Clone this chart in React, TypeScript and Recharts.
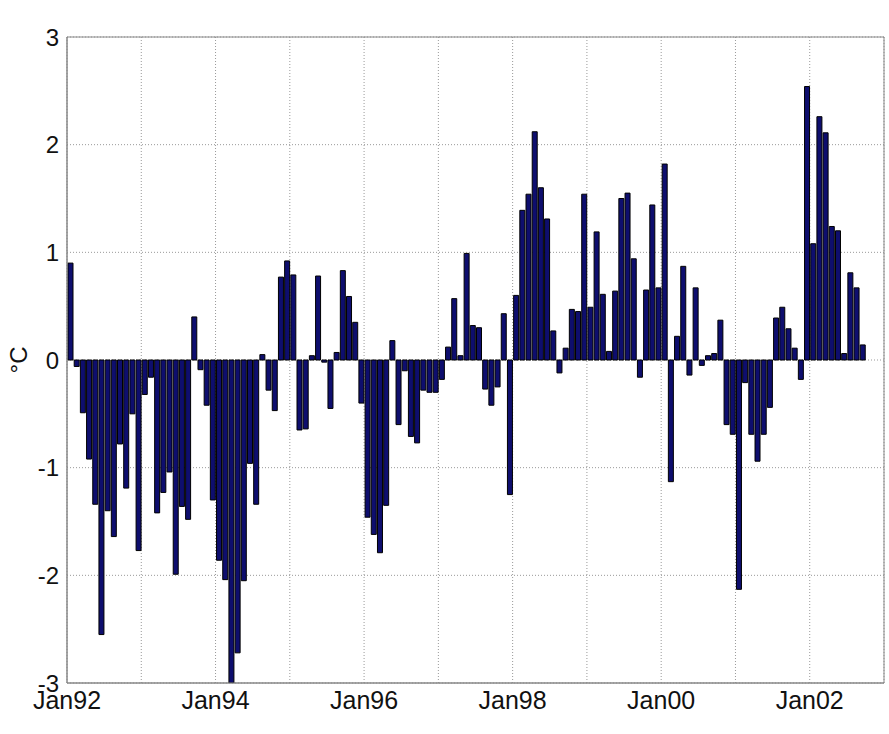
import { BarChart, Bar, XAxis, YAxis, CartesianGrid, ReferenceArea } from "recharts";

// monthly temperature anomaly (°C), Jan 1992 .. Sep 2002
const anom1992 = [0.9, -0.06, -0.49, -0.92, -1.34, -2.55, -1.4, -1.64, -0.78, -1.19, -0.5, -1.77];
const anom1993 = [-0.32, -0.16, -1.42, -1.23, -1.04, -1.99, -1.36, -1.48, 0.4, -0.09, -0.42, -1.3];
const anom1994 = [-1.86, -2.04, -3.0, -2.72, -2.05, -0.96, -1.34, 0.05, -0.28, -0.47, 0.77, 0.92];
const anom1995 = [0.79, -0.65, -0.64, 0.04, 0.78, -0.02, -0.45, 0.07, 0.83, 0.59, 0.35, -0.4];
const anom1996 = [-1.46, -1.62, -1.79, -1.35, 0.18, -0.6, -0.1, -0.71, -0.77, -0.28, -0.3, -0.3];
const anom1997 = [-0.18, 0.12, 0.57, 0.04, 0.99, 0.32, 0.3, -0.27, -0.42, -0.25, 0.43, -1.25];
const anom1998 = [0.6, 1.39, 1.54, 2.12, 1.6, 1.31, 0.27, -0.12, 0.11, 0.47, 0.45, 1.54];
const anom1999 = [0.49, 1.19, 0.61, 0.08, 0.64, 1.5, 1.55, 0.94, -0.16, 0.65, 1.44, 0.67];
const anom2000 = [1.82, -1.13, 0.22, 0.87, -0.14, 0.67, -0.05, 0.04, 0.06, 0.37, -0.6, -0.69];
const anom2001 = [-2.13, -0.21, -0.69, -0.94, -0.69, -0.44, 0.39, 0.49, 0.29, 0.11, -0.18, 2.54];
const anom2002 = [1.08, 2.26, 2.11, 1.24, 1.2, 0.06, 0.81, 0.67, 0.14];

const anomalies = [
  ...anom1992, ...anom1993, ...anom1994, ...anom1995, ...anom1996, ...anom1997,
  ...anom1998, ...anom1999, ...anom2000, ...anom2001, ...anom2002,
];

// months since Jan92, one tick a year, label every second year
const yearTicks = [0, 12, 24, 36, 48, 60, 72, 84, 96, 108, 120];
const yTicks = [-3, -2, -1, 0, 1, 2, 3];

// bars sit in the middle of their month
const data = anomalies.map((v, i) => ({ month: i + 0.5, anomaly: v }));

const fmtYear = (m: number) => {
  const yr = 92 + m / 12;
  return yr % 2 === 0 ? `Jan${String(yr % 100).padStart(2, "0")}` : "";
};

const font = "'Liberation Sans', Arial, Helvetica, sans-serif";

export default function App() {
  return (
    <div style={{ position: "absolute", left: 0, top: 0, background: "#fff" }}>
      <BarChart
        width={889}
        height={734}
        data={data}
        margin={{ top: 37, right: 5, bottom: 0, left: 0 }}
        barSize={5}
      >
        <CartesianGrid stroke="#999" strokeDasharray="1 2" />
        <XAxis
          dataKey="month"
          type="number"
          domain={[0, 132]}
          ticks={yearTicks}
          interval={0}
          tickFormatter={fmtYear}
          allowDataOverflow
          height={51}
          axisLine={{ stroke: "#888" }}
          tickLine={false}
          tick={{ fontSize: 25, fill: "#111", fontFamily: font }}
        />
        <YAxis
          domain={[-3, 3]}
          ticks={yTicks}
          interval={0}
          allowDataOverflow
          width={67}
          axisLine={{ stroke: "#888" }}
          tickLine={false}
          tick={{ fontSize: 24, fill: "#111", fontFamily: font }}
          label={{
            content: () => (
              <text
                x={18}
                y={360}
                transform="rotate(-90 18 360)"
                textAnchor="middle"
                dominantBaseline="central"
                fontSize={24}
                fontFamily={font}
                fill="#111"
              >
                °C
              </text>
            ),
          }}
        />
        <ReferenceArea x1={0} x2={132} y1={-3} y2={3} fill="none" stroke="#888" strokeOpacity={1} />
        <Bar dataKey="anomaly" fill="#0e0e6e" stroke="#000" strokeWidth={1} isAnimationActive={false} />
      </BarChart>
    </div>
  );
}
